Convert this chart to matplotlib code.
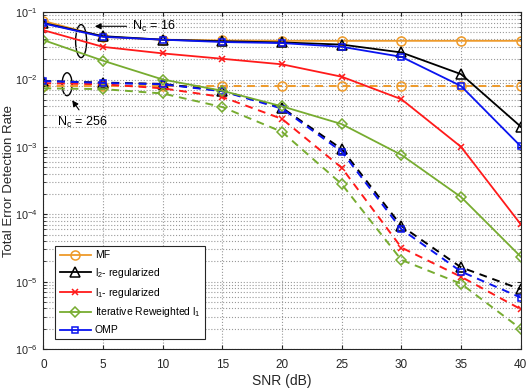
import matplotlib
matplotlib.use("Agg")
import matplotlib.pyplot as plt
from matplotlib.patches import Ellipse
import numpy as np

plt.rcParams['font.family'] = ['Liberation Sans', 'DejaVu Sans']
plt.rcParams['mathtext.fontset'] = 'custom'
plt.rcParams['mathtext.rm'] = 'Liberation Sans'
plt.rcParams['mathtext.it'] = 'Liberation Sans'

snr = [0, 5, 10, 15, 20, 25, 30, 35, 40]

# Nc = 16 (solid)
mf_16 = [0.074, 0.043, 0.039, 0.038, 0.0375, 0.0375, 0.0375, 0.0375, 0.0375]
l2_16 = [0.069, 0.044, 0.039, 0.037, 0.0355, 0.033, 0.0252, 0.012, 0.0020]
l1_16 = [0.054, 0.0305, 0.0244, 0.0203, 0.0168, 0.011, 0.0051, 0.001, 7.1e-5]
irl1_16 = [0.0385, 0.019, 0.0100, 0.0068, 0.0040, 0.00218, 7.6e-4, 1.8e-4, 2.35e-5]
omp_16 = [0.068, 0.043, 0.039, 0.036, 0.0347, 0.0306, 0.0217, 0.008, 0.00102]

# Nc = 256 (dashed)
mf_256 = [0.0079, 0.0079, 0.0079, 0.0079, 0.0079, 0.0079, 0.0079, 0.0079, 0.0079]
l2_256 = [0.0095, 0.0090, 0.0086, 0.0068, 0.0038, 9.3e-4, 6.7e-5, 1.63e-5, 7.7e-6]
l1_256 = [0.0088, 0.0085, 0.0074, 0.0055, 0.0026, 4.9e-4, 3.2e-5, 1.18e-5, 3.9e-6]
irl1_256 = [0.0074, 0.0072, 0.0062, 0.0039, 0.00167, 2.8e-4, 2.1e-5, 9.3e-6, 2.0e-6]
omp_256 = [0.0095, 0.0089, 0.0085, 0.0067, 0.0037, 8.5e-4, 6.0e-5, 1.41e-5, 5.8e-6]

labels = ['MF', 'l$_2$- regularized', 'l$_1$- regularized',
          'Iterative Reweighted l$_1$', 'OMP']
colors = ['#EE9A2A', 'black', '#FF1A1A', '#77AC30', '#0A14F0']
markers = ['o', '^', 'x', 'D', 's']
sizes = [6.5, 6.5, 5, 5.5, 5]

fig = plt.figure(figsize=(5.26, 3.89), dpi=100)
ax = fig.add_axes([0.0825, 0.1028, 0.9075, 0.866])

solid = [mf_16, l2_16, l1_16, irl1_16, omp_16]
dashed = [mf_256, l2_256, l1_256, irl1_256, omp_256]

for i in range(5):
    ax.plot(snr, dashed[i], color=colors[i], ls=(0, (4, 3)), lw=1.4,
            marker=markers[i], ms=sizes[i], mfc='none', mew=1.1)
handles = []
for i in range(5):
    h, = ax.plot(snr, solid[i], color=colors[i], ls='-', lw=1.3,
                 marker=markers[i], ms=sizes[i], mfc='none', mew=1.1,
                 label=labels[i])
    handles.append(h)

ax.set_yscale('log')
ax.set_xlim(0, 40)
ax.set_ylim(1e-6, 1e-1)
ax.set_xticks(range(0, 41, 5))

ax.grid(True, which='major', ls=':', color='#999999', lw=0.8)
ax.grid(True, which='minor', axis='y', ls=':', color='#999999', lw=0.8)
ax.tick_params(which='both', direction='in', top=True, right=True,
               labelsize=8.5, colors='#262626')
ax.tick_params(which='major', length=3)
ax.tick_params(which='minor', length=1.8)
ax.tick_params(axis='x', pad=7)
ax.tick_params(axis='y', pad=4, labelsize=7.8)
for s in ax.spines.values():
    s.set_color('#262626')
    s.set_linewidth(0.8)

ax.set_xlabel('SNR (dB)', fontsize=10, color='#262626', labelpad=2)
ax.set_ylabel('Total Error Detection Rate', fontsize=9.5, color='#262626')
ax.yaxis.set_label_coords(-0.06, 0.5)

leg = ax.legend(handles=handles, loc='lower left', fontsize=7.5,
                handlelength=3.0, handletextpad=0.4, fancybox=False,
                edgecolor='#262626', framealpha=1, borderaxespad=0.6,
                labelspacing=0.55, bbox_to_anchor=(0.012, 0.01))
leg.get_frame().set_linewidth(0.8)

# Nc annotations
ax.add_patch(Ellipse((0.079, 0.914), 0.023, 0.098, transform=ax.transAxes,
                     fill=False, ec='black', lw=1.0))
ax.annotate('', xy=(0.102, 0.958), xytext=(0.18, 0.958),
            xycoords='axes fraction', textcoords='axes fraction',
            arrowprops=dict(arrowstyle='-|>', color='black', lw=0.8,
                            mutation_scale=9))
ax.text(0.186, 0.958, 'N$_\\mathrm{c}$ = 16', transform=ax.transAxes,
        fontsize=9, va='center', ha='left')

ax.add_patch(Ellipse((0.0496, 0.786), 0.021, 0.068, transform=ax.transAxes,
                     fill=False, ec='black', lw=1.0))
ax.annotate('', xy=(0.057, 0.745), xytext=(0.078, 0.703),
            xycoords='axes fraction', textcoords='axes fraction',
            arrowprops=dict(arrowstyle='-|>', color='black', lw=0.8,
                            mutation_scale=9))
ax.text(0.028, 0.672, 'N$_\\mathrm{c}$ = 256', transform=ax.transAxes,
        fontsize=9, va='center', ha='left')

fig.savefig('out.png', dpi=100)
